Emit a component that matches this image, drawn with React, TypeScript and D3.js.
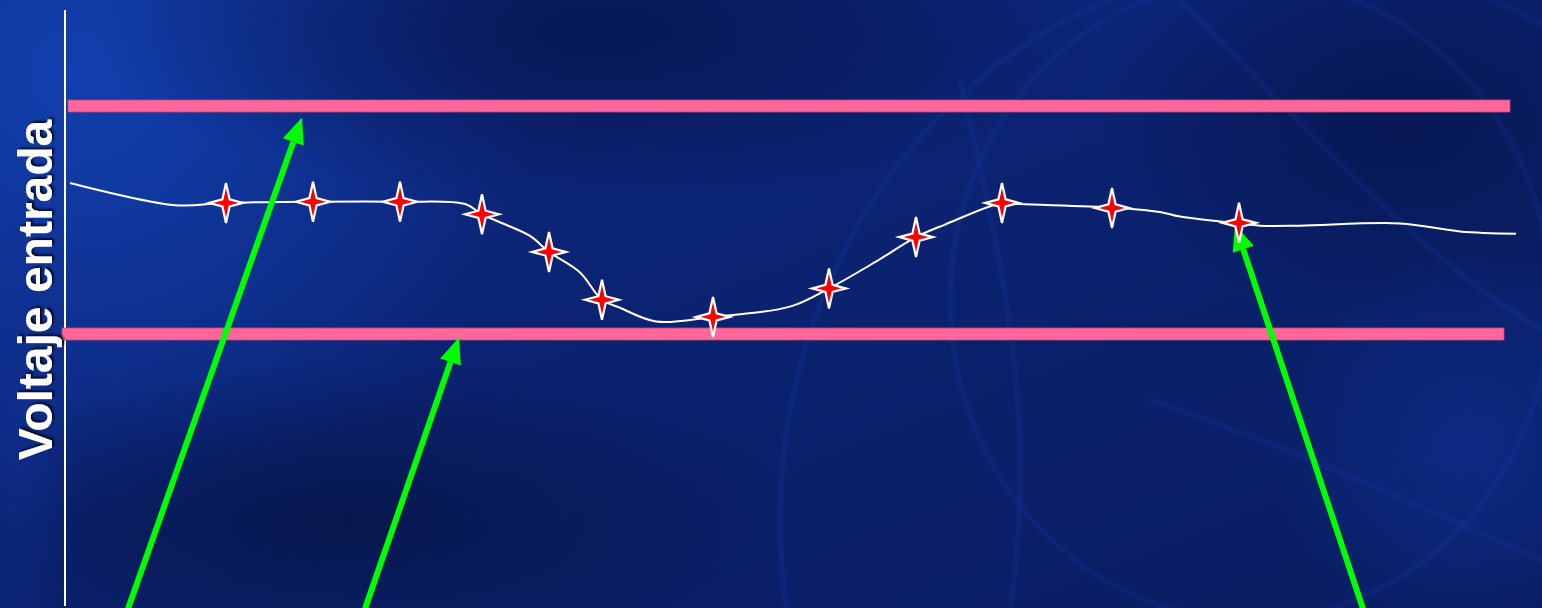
import React from "react";
import * as d3 from "d3";

// time (ms) vs input voltage (V)
const lineTime = [4, 109, 159, 246, 334, 399, 416, 434, 464, 483, 514, 536, 554, 590, 647, 724, 763, 809, 850, 879, 936, 954, 1046, 1094, 1114, 1173, 1194, 1234, 1334, 1394, 1450];
const lineVolt = [103.25, 101.3, 101.5, 101.6, 101.6, 101.4, 100.5, 99.8, 98.6, 97.2, 95.4, 93.0, 92.3, 91.1, 91.5, 92.4, 94.0, 96.3, 98.5, 99.6, 101.5, 101.4, 101.1, 100.7, 100.3, 99.7, 99.5, 99.5, 99.7, 99.0, 98.8];

const sampleTime = [160, 247, 334, 416, 483, 536, 647, 763, 850, 936, 1046, 1173];
const sampleVolt = [101.5, 101.6, 101.6, 100.5, 97.2, 93.0, 91.5, 94.0, 98.5, 101.5, 101.05, 99.75];

const limitVolt = [110, 90];
const limitStart = [2, -4];
const limitEnd = [1444, 1438];

// annotation arrows: [tailTime, tailVolt, tipTime, tipVolt]
const arrowTailTime = [62, 299, 1297];
const arrowTailVolt = [65.9, 65.9, 65.9];
const arrowTipTime = [236, 393, 1169];
const arrowTipVolt = [109.0, 89.7, 99.6];

const yLabel = "Voltaje entrada";

const W = 1542;
const H = 608;

export default function App() {
  const x = d3.scaleLinear().domain([0, 1450]).range([66, 1516]);
  const y = d3.scaleLinear().domain([90, 110]).range([334, 106]);

  const pts = lineTime.map((t, i) => [x(t), y(lineVolt[i])] as [number, number]);
  const linePath = d3.line().curve(d3.curveCatmullRom.alpha(0.5))(pts) || "";

  const star = (cx: number, cy: number) => {
    const ro = 20, rh = 17, ri = 3.6;
    const p = [
      [cx, cy - ro], [cx + ri, cy - ri], [cx + rh, cy], [cx + ri, cy + ri],
      [cx, cy + ro], [cx - ri, cy + ri], [cx - rh, cy], [cx - ri, cy - ri],
    ];
    return "M" + p.map((q) => q.join(",")).join("L") + "Z";
  };

  const arrows = arrowTailTime.map((t, i) => {
    const x1 = x(t), y1 = y(arrowTailVolt[i]);
    const x2 = x(arrowTipTime[i]), y2 = y(arrowTipVolt[i]);
    const ang = Math.atan2(y2 - y1, x2 - x1);
    const hl = 26, hw = 11;
    const bx = x2 - hl * Math.cos(ang), by = y2 - hl * Math.sin(ang);
    const nx = -Math.sin(ang), ny = Math.cos(ang);
    const head = `M${x2},${y2}L${bx + nx * hw},${by + ny * hw}L${bx - nx * hw},${by - ny * hw}Z`;
    return { x1, y1, bx, by, head };
  });

  return (
    <svg width={W} height={H} style={{ position: "absolute", left: 0, top: 0, display: "block" }}>
      <defs>
        <linearGradient id="bg" x1="0" y1="0" x2="1" y2="1">
          <stop offset="0" stopColor="#0d2a85" />
          <stop offset="0.5" stopColor="#0b2270" />
          <stop offset="1" stopColor="#091d60" />
        </linearGradient>
        <radialGradient id="glowTL" cx="0.05" cy="0.05" r="0.3" gradientTransform="scale(1,2.5)">
          <stop offset="0" stopColor="#1240b0" stopOpacity="0.95" />
          <stop offset="1" stopColor="#1240b0" stopOpacity="0" />
        </radialGradient>
        <radialGradient id="darkTop" cx="0.5" cy="0.5" r="0.5">
          <stop offset="0" stopColor="#071650" stopOpacity="0.9" />
          <stop offset="1" stopColor="#071650" stopOpacity="0" />
        </radialGradient>
        <radialGradient id="darkBL" cx="0.5" cy="0.5" r="0.5">
          <stop offset="0" stopColor="#061548" stopOpacity="0.85" />
          <stop offset="1" stopColor="#061548" stopOpacity="0" />
        </radialGradient>
        <radialGradient id="glowR" cx="0.5" cy="0.5" r="0.5">
          <stop offset="0" stopColor="#0f2e90" stopOpacity="0.7" />
          <stop offset="1" stopColor="#0f2e90" stopOpacity="0" />
        </radialGradient>
        <filter id="shadow" x="-20%" y="-20%" width="140%" height="140%">
          <feDropShadow dx="2" dy="2" stdDeviation="0.8" floodColor="#000" floodOpacity="0.8" />
        </filter>
      </defs>
      <rect width={W} height={H} fill="url(#bg)" />
      <rect width={W} height={H} fill="url(#glowTL)" />
      <ellipse cx={600} cy={30} rx={500} ry={180} fill="url(#darkTop)" />
      <ellipse cx={1400} cy={120} rx={300} ry={200} fill="url(#darkTop)" />
      <ellipse cx={350} cy={520} rx={450} ry={160} fill="url(#darkBL)" />
      <ellipse cx={1470} cy={450} rx={200} ry={200} fill="url(#glowR)" />
      <ellipse cx={20} cy={420} rx={60} ry={250} fill="url(#glowR)" />
      {/* faint background arcs */}
      <g fill="none" stroke="#1a48c8" strokeOpacity={0.14} strokeWidth={6}>
        <ellipse cx={1300} cy={520} rx={520} ry={560} />
        <ellipse cx={1250} cy={300} rx={300} ry={320} />
        <path d="M1180,0 C1300,120 1420,260 1542,330" />
        <path d="M1150,400 C1300,450 1450,520 1542,560" />
        <path d="M960,80 C1000,250 1040,420 1010,608" />
      </g>
      {/* axis */}
      <line x1={65} x2={65} y1={10} y2={606} stroke="#ffffff" strokeWidth={2} />
      {/* limits */}
      {limitVolt.map((v, i) => (
        <rect key={i} x={x(limitStart[i])} y={y(v) - 6} width={x(limitEnd[i]) - x(limitStart[i])} height={12}
          fill="#ff6699" stroke="#c04a80" strokeWidth={0.8} />
      ))}
      {/* line */}
      <path d={linePath} fill="none" stroke="#ffffff" strokeWidth={2} />
      {/* arrows */}
      {arrows.map((a, i) => (
        <g key={i} fill="#00ff00">
          <line x1={a.x1} y1={a.y1} x2={a.bx} y2={a.by} stroke="#00ff00" strokeWidth={6} />
          <path d={a.head} />
        </g>
      ))}
      {/* samples */}
      {sampleTime.map((t, i) => (
        <path key={i} d={star(x(t), y(sampleVolt[i]))} fill="#ff0000" stroke="#ffffff" strokeWidth={2.2} strokeLinejoin="miter" />
      ))}
      <text transform={`translate(52,290) rotate(-90)`} textAnchor="middle" fill="#ffffff"
        fontFamily="'Liberation Sans', Arial, sans-serif" fontWeight="bold" fontSize={48} filter="url(#shadow)">
        {yLabel}
      </text>
    </svg>
  );
}
